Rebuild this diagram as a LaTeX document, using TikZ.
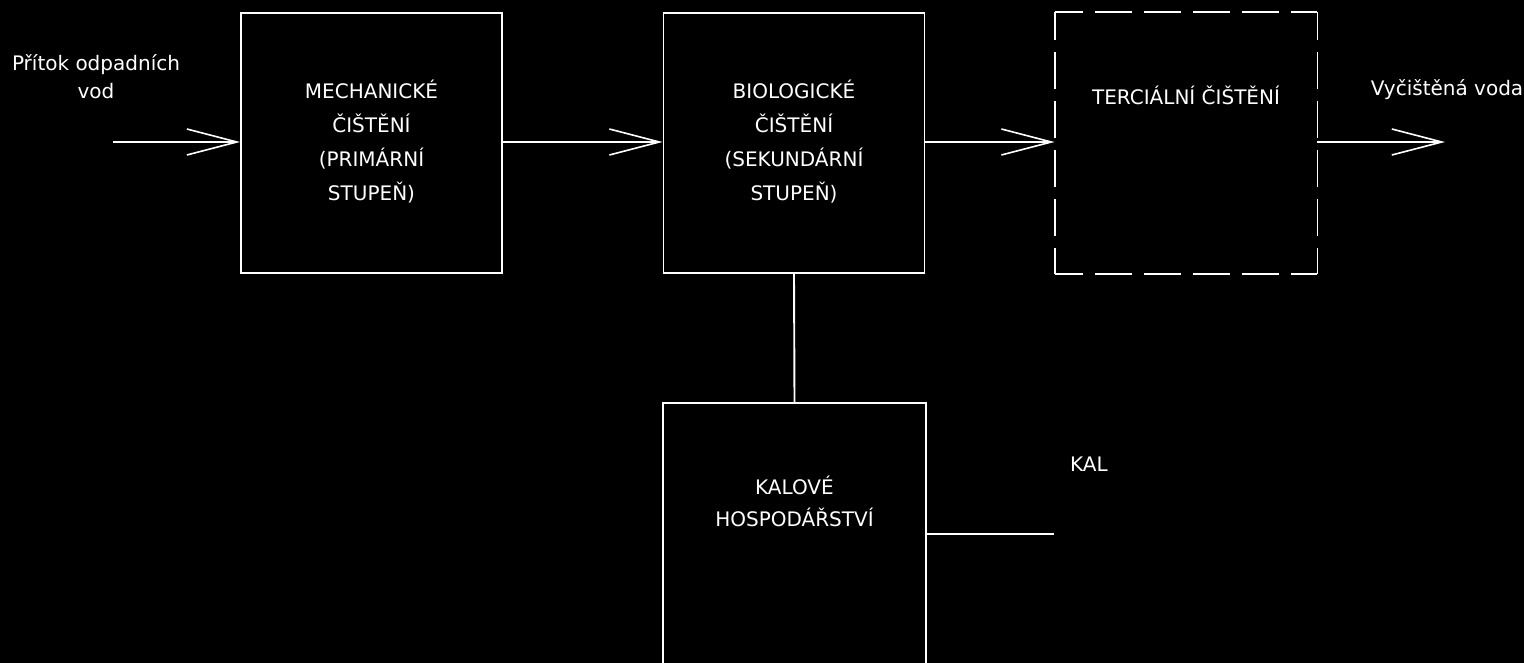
\documentclass[tikz,border=0pt]{standalone}
\usepackage{fontspec}
\setmainfont{DejaVu Sans}
\usetikzlibrary{arrows.meta}
\begin{document}
\begin{tikzpicture}[x=1pt,y=-1pt,
  wire/.style={draw=white,line width=1.9pt},
  flow/.style={wire,-{Straight Barb[length=50pt,width=26pt,line width=1.6pt]}},
  stage/.style={wire,rectangle,minimum width=261pt,minimum height=260pt,inner sep=0pt,
    text=white,align=center,font=\fontsize{20}{34}\selectfont},
  dashside/.style={wire,dash pattern=on 37pt off 12pt,dash phase=9pt},
  caption/.style={text=white,align=center,inner sep=0pt,font=\fontsize{20}{28}\selectfont}]
  % canvas
  \fill[black] (0,0) rectangle (1524,663);
  \useasboundingbox (0,0) rectangle (1524,663);

  % treatment stages
  \node[stage] (mech) at (371.5,143) {\raisebox{-3pt}{\begin{tabular}{@{}c@{}}MECHANICKÉ\\ČIŠTĚNÍ\\(PRIMÁRNÍ\\STUPEŇ)\end{tabular}}};
  \node[stage] (bio) at (794,143) {\raisebox{-3pt}{\begin{tabular}{@{}c@{}}BIOLOGICKÉ\\ČIŠTĚNÍ\\(SEKUNDÁRNÍ\\STUPEŇ)\end{tabular}}};
  \node[stage,draw=none] (tert) at (1186,143) {};
  \draw[dashside] (tert.north west) -- (tert.north east);
  \draw[dashside] (tert.north east) -- (tert.south east);
  \draw[dashside] (tert.south west) -- (tert.south east);
  \draw[dashside] (tert.north west) -- (tert.south west);
  \node[caption] (terttext) at (1186,95) {TERCIÁLNÍ ČIŠTĚNÍ};

  % sludge handling (runs below the page edge)
  \node[stage,minimum width=263pt,minimum height=277pt] (kal) at (794.5,541.5) {};
  \node[caption,font=\fontsize{20}{32}\selectfont] (kaltext) at (794.5,501) {KALOVÉ\\HOSPODÁŘSTVÍ};

  % inflow / outflow labels
  \node[caption] (inlbl) at (96,77) {Přítok odpadních\\vod};
  \node[caption] (outlbl) at (1447,90) {Vyčištěná voda};
  \node[caption] (sludge) at (1089,464) {KAL};

  % free ends
  \coordinate (inflow) at (113,142);
  \coordinate (outflow) at (1445,142);
  \coordinate (kalend) at (1054,534);

  % connectors
  \draw[flow] (inflow) -- (inflow -| mech.west);
  \draw[flow] (mech.east |- inflow) -- (inflow -| bio.west);
  \draw[flow] (bio.east |- inflow) -- (inflow -| tert.west);
  \draw[flow] (tert.east |- inflow) -- (outflow);
  \draw[wire] (bio.south) -- (kal.north);
  \draw[wire] (kalend -| kal.east) -- (kalend);
\end{tikzpicture}
\end{document}
